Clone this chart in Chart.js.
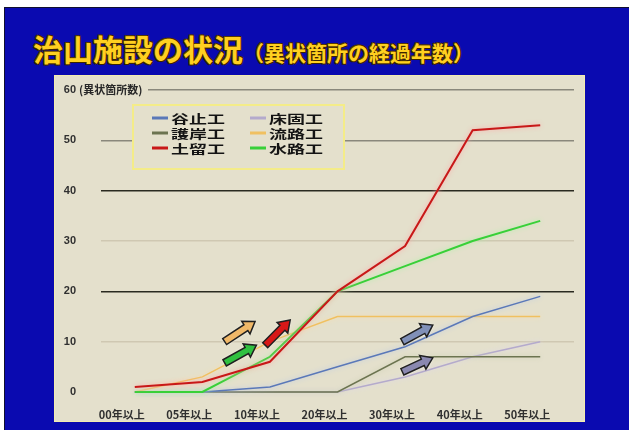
<!DOCTYPE html>
<html>
<head>
<meta charset="utf-8">
<script src="https://cdn.jsdelivr.net/npm/chart.js"></script>
<style>
  body { margin: 0; background: #fff; }
  #wrap { position: relative; width: 629px; height: 430px; overflow: hidden; }
  #blue { position: absolute; left: 4px; top: 7px; width: 630px; height: 430px; background: #0a0ab0; border: 1px solid #101030; }
  #panel { position: absolute; left: 54px; top: 75px; width: 531px; height: 347px; background: #e4e0cc; border: 1px solid #f2ecb0; box-sizing: border-box; }
  #title { position: absolute; left: 33px; top: 26px; color: #ffd020; font-family: "Noto Sans CJK JP", sans-serif; font-weight: bold; white-space: nowrap;
           text-shadow: 1px 1px 0 #3a2400, -1px -1px 0 #5a3c00, 1px -1px 0 #3a2400, -1px 1px 0 #3a2400; }
  #title .big { font-size: 30px; }
  #title .small { font-size: 21px; }
  canvas { position: absolute; left: 0; top: 0; }
</style>
</head>
<body>
<div id="wrap">
  <div id="blue"></div>
  <div id="panel"></div>
  <div id="title"><span class="big">治山施設の状況</span><span class="small">（異状箇所の経過年数）</span></div>
  <canvas id="c" width="629" height="430"></canvas>
</div>
<script>
const categories = ['00年以上', '05年以上', '10年以上', '20年以上', '30年以上', '40年以上', '50年以上'];
const seriesNames = ['谷止工', '床固工', '護岸工', '流路工', '土留工', '水路工'];
const taniDome = [0, 0, 1, 5, 9, 15, 19];
const tokoKatame = [0, 0, 0, 0, 3, 7, 10];
const gogan = [0, 0, 0, 0, 7, 7, 7];
const ryuro = [0, 3, 10, 15, 15, 15, 15];
const dodome = [1, 2, 6, 20, 29, 52, 53];
const suiro = [0, 0, 7, 20, 25, 30, 34];
const yTicks = [0, 10, 20, 30, 40, 50, 60];
const yTitle = '(異状箇所数)';

// decorative arrows, in (category index, value) space
const arrows = [
  { from: [1.33, 10], to: [1.78, 14], fill: '#f0b868' },
  { from: [1.33, 5.8], to: [1.8, 9.3], fill: '#30c040' },
  { from: [1.93, 9.3], to: [2.3, 14.3], fill: '#d81818' },
  { from: [3.96, 10], to: [4.41, 13.3], fill: '#8090b8' },
  { from: [3.96, 4], to: [4.41, 6.8], fill: '#8a88b0' }
];

const colors = ['#5a78b8', '#b4aacc', '#6c7450', '#f0c060', '#c81818', '#38d038'];
const glows = ['#b8c8e8', '#dcd6ec', '#c8ccb0', '#f8dca8', '#ffa8a8', '#b0f0a8'];
const drawOrder = [2, 5, 4, 3, 0, 1]; // red on top, then green
const values = [taniDome, tokoKatame, gogan, ryuro, dodome, suiro];

const datasets = seriesNames.map((name, i) => ({
  label: name,
  data: values[i],
  borderColor: colors[i],
  backgroundColor: colors[i],
  glow: glows[i],
  order: drawOrder[i],
  borderWidth: (i === 4 || i === 5) ? 2 : 1.5,
  pointRadius: 0,
  tension: 0,
  clip: false,
  fill: false
}));

const glowPlugin = {
  id: 'glow',
  beforeDatasetDraw(chart, args) {
    const ctx = chart.ctx;
    ctx.save();
    ctx.shadowColor = chart.data.datasets[args.index].glow;
    ctx.shadowBlur = 5;
  },
  afterDatasetDraw(chart) {
    chart.ctx.restore();
  }
};

function drawArrow(ctx, x1, y1, x2, y2, fill) {
  const ang = Math.atan2(y2 - y1, x2 - x1);
  const len = Math.hypot(x2 - x1, y2 - y1);
  const sh = 3.5, hw = 7.5, hl = 11;
  ctx.save();
  ctx.translate(x1, y1);
  ctx.rotate(ang);
  ctx.beginPath();
  ctx.moveTo(0, -sh);
  ctx.lineTo(len - hl, -sh);
  ctx.lineTo(len - hl, -hw);
  ctx.lineTo(len, 0);
  ctx.lineTo(len - hl, hw);
  ctx.lineTo(len - hl, sh);
  ctx.lineTo(0, sh);
  ctx.closePath();
  ctx.shadowColor = 'rgba(255,255,255,0.9)';
  ctx.shadowBlur = 3;
  ctx.fillStyle = fill;
  ctx.fill();
  ctx.shadowBlur = 0;
  ctx.lineWidth = 1.5;
  ctx.strokeStyle = '#202020';
  ctx.stroke();
  ctx.restore();
}

const extrasPlugin = {
  id: 'extras',
  afterDatasetsDraw(chart) {
    const ctx = chart.ctx;
    const xs = chart.scales.x, ys = chart.scales.y;
    const area = chart.chartArea;

    arrows.forEach(a => {
      drawArrow(ctx, xs.getPixelForValue(a.from[0]), ys.getPixelForValue(a.from[1]),
        xs.getPixelForValue(a.to[0]), ys.getPixelForValue(a.to[1]), a.fill);
    });

    // y axis title next to the 60 tick
    const y60 = ys.getPixelForValue(60);
    ctx.save();
    ctx.fillStyle = '#e4e0cc';
    ctx.fillRect(78, y60 - 7, 70, 14);
    ctx.font = 'bold 11px "Noto Sans CJK JP", sans-serif';
    ctx.fillStyle = '#282828';
    ctx.textBaseline = 'middle';
    ctx.fillText(yTitle, 79, y60);
    ctx.restore();

    // legend box
    const bx = area.left + 32, by = area.top + 15, bw = 211, bh = 64;
    ctx.save();
    ctx.fillStyle = '#e4e0cc';
    ctx.fillRect(bx, by, bw, bh);
    ctx.strokeStyle = '#f4ec88';
    ctx.lineWidth = 2;
    ctx.strokeRect(bx, by, bw, bh);
    chart.data.datasets.forEach((ds, i) => {
      const col = i % 2, row = Math.floor(i / 2);
      const sx = bx + 19 + col * 98;
      const sy = by + 13 + row * 15;
      ctx.strokeStyle = ds.borderColor;
      ctx.lineWidth = 3;
      ctx.beginPath();
      ctx.moveTo(sx, sy);
      ctx.lineTo(sx + 16, sy);
      ctx.stroke();
      ctx.save();
      ctx.translate(sx + 19, sy);
      ctx.scale(1.5, 1);
      ctx.font = 'bold 12px "Noto Sans CJK JP", sans-serif';
      ctx.fillStyle = '#141414';
      ctx.textBaseline = 'middle';
      ctx.fillText(ds.label, 0, 1);
      ctx.restore();
    });
    ctx.restore();
  }
};

function gridColor(v) {
  if (v === 20 || v === 40) return '#2a2a20';
  if (v === 50 || v === 60) return '#8a887c';
  if (v === 0) return 'rgba(0,0,0,0)';
  return '#cfc8b2';
}

new Chart(document.getElementById('c'), {
  type: 'line',
  data: { labels: categories, datasets: datasets },
  options: {
    responsive: false,
    animation: false,
    layout: { padding: { left: 47, right: 55, top: 90, bottom: 0 } },
    plugins: { legend: { display: false }, tooltip: { enabled: false } },
    scales: {
      x: {
        offset: true,
        grid: { display: false },
        border: { display: false },
        ticks: {
          autoSkip: false, maxRotation: 0, padding: 8, labelOffset: -13, color: '#303030',
          font: { family: '"Noto Sans CJK JP", sans-serif', size: 11, weight: 'bold' }
        },
        afterFit(s) { s.height = 38; s.paddingLeft = 0; s.paddingRight = 0; }
      },
      y: {
        min: 0, max: 60,
        afterBuildTicks(s) { s.ticks = yTicks.map(v => ({ value: v })); },
        grid: {
          drawTicks: false,
          lineWidth: 1.5,
          color: c => gridColor(c.tick.value)
        },
        border: { display: false },
        ticks: {
          padding: 25, color: '#303030',
          font: { family: 'Arial, "Liberation Sans", sans-serif', size: 11, weight: 'bold' }
        },
        afterFit(s) { s.width = 54; s.paddingTop = 0; s.paddingBottom = 0; }
      }
    }
  },
  plugins: [glowPlugin, extrasPlugin]
});
</script>
</body>
</html>
